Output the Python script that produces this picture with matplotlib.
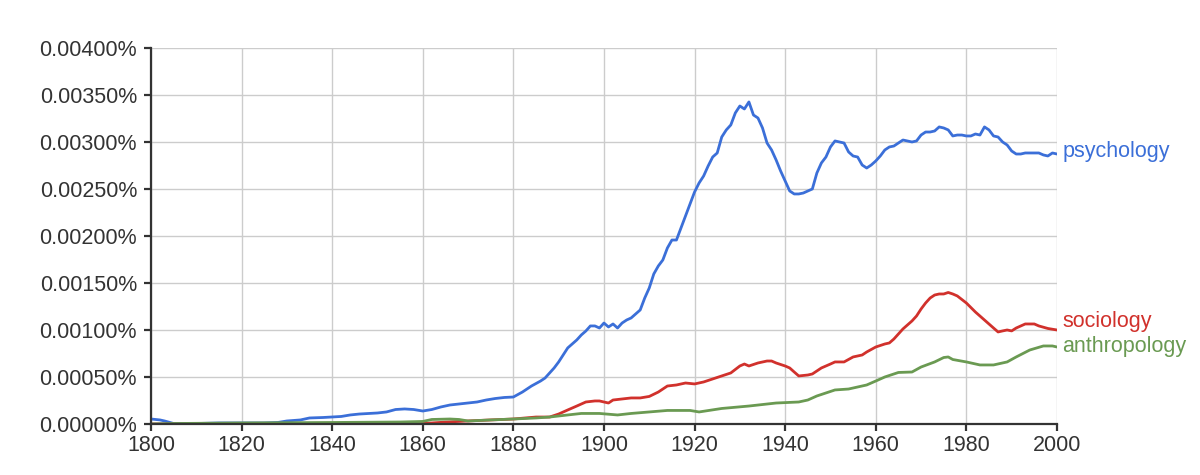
import matplotlib
matplotlib.use('Agg')
import matplotlib.pyplot as plt
from matplotlib.ticker import FuncFormatter

# values are share of all words, in percent
psych_years = [1800, 1802, 1803, 1805, 1810, 1815, 1820, 1825, 1828, 1830, 1833, 1835, 1838,
               1840, 1842, 1844, 1846, 1848, 1850, 1852, 1854, 1856, 1858, 1860, 1862, 1864,
               1866, 1868, 1870, 1872, 1874, 1876, 1878, 1880, 1882, 1884, 1886, 1887, 1888,
               1889, 1890, 1891, 1892, 1893, 1894, 1895, 1896, 1897, 1898, 1899, 1900, 1901,
               1902, 1903, 1904, 1905, 1906, 1907, 1908, 1909, 1910, 1911, 1912, 1913, 1914,
               1915, 1916, 1917, 1918, 1919, 1920, 1921, 1922, 1923, 1924, 1925, 1926, 1927,
               1928, 1929, 1930, 1931, 1932, 1933, 1934, 1935, 1936, 1937, 1938, 1939, 1940,
               1941, 1942, 1943, 1944, 1945, 1946, 1947, 1948, 1949, 1950, 1951, 1952, 1953,
               1954, 1955, 1956, 1957, 1958, 1959, 1960, 1961, 1962, 1963, 1964, 1965, 1966,
               1967, 1968, 1969, 1970, 1971, 1972, 1973, 1974, 1975, 1976, 1977, 1978, 1979,
               1980, 1981, 1982, 1983, 1984, 1985, 1986, 1987, 1988, 1989, 1990, 1991, 1992,
               1993, 1994, 1995, 1996, 1997, 1998, 1999, 2000]
psych_vals = [0.000053, 0.000043, 0.000032, 0.000005, 0.000005, 0.000011, 0.000011, 0.000011,
              0.000016, 0.000032, 0.000043, 0.000064, 0.000069, 0.000074, 0.000080, 0.000096,
              0.000106, 0.000112, 0.000117, 0.000128, 0.000154, 0.000160, 0.000154, 0.000138,
              0.000154, 0.000181, 0.000202, 0.000213, 0.000223, 0.000234, 0.000255, 0.000271,
              0.000282, 0.000287, 0.000340, 0.000404, 0.000457, 0.000489, 0.000543, 0.000596,
              0.000660, 0.000734, 0.000809, 0.000851, 0.000894, 0.000947, 0.000989, 0.001043,
              0.001043, 0.001021, 0.001074, 0.001032, 0.001064, 0.001021, 0.001074, 0.001106,
              0.001128, 0.001170, 0.001213, 0.001340, 0.001447, 0.001596, 0.001681, 0.001745,
              0.001872, 0.001957, 0.001957, 0.002085, 0.002213, 0.002340, 0.002468, 0.002564,
              0.002638, 0.002745, 0.002840, 0.002883, 0.003053, 0.003128, 0.003181, 0.003309,
              0.003383, 0.003351, 0.003426, 0.003287, 0.003255, 0.003149, 0.002989, 0.002915,
              0.002809, 0.002691, 0.002585, 0.002479, 0.002447, 0.002447, 0.002457, 0.002479,
              0.002500, 0.002670, 0.002777, 0.002840, 0.002947, 0.003011, 0.003000, 0.002989,
              0.002894, 0.002851, 0.002840, 0.002755, 0.002723, 0.002755, 0.002798, 0.002851,
              0.002915, 0.002947, 0.002957, 0.002989, 0.003021, 0.003011, 0.003000, 0.003011,
              0.003074, 0.003106, 0.003106, 0.003117, 0.003160, 0.003149, 0.003128, 0.003064,
              0.003074, 0.003074, 0.003064, 0.003064, 0.003085, 0.003074, 0.003160, 0.003128,
              0.003064, 0.003053, 0.003000, 0.002968, 0.002904, 0.002872, 0.002872, 0.002883,
              0.002883, 0.002883, 0.002883, 0.002862, 0.002851, 0.002883, 0.002872]

socio_years = [1800, 1858, 1860, 1865, 1870, 1875, 1880, 1885, 1888, 1890, 1892, 1894, 1896,
               1898, 1899, 1901, 1902, 1904, 1906, 1908, 1910, 1912, 1914, 1916, 1918, 1920,
               1922, 1924, 1926, 1928, 1930, 1931, 1932, 1934, 1936, 1937, 1938, 1940, 1941,
               1942, 1943, 1945, 1946, 1948, 1950, 1951, 1953, 1955, 1957, 1958, 1960, 1962,
               1963, 1964, 1966, 1968, 1969, 1970, 1971, 1972, 1973, 1974, 1975, 1976, 1977,
               1978, 1980, 1982, 1984, 1986, 1987, 1988, 1989, 1990, 1991, 1993, 1995, 1996,
               1998, 2000]
socio_vals = [0.0, 0.0, 0.000005, 0.000020, 0.000032, 0.000043, 0.000053, 0.000074, 0.000074,
              0.000106, 0.000149, 0.000191, 0.000234, 0.000245, 0.000245, 0.000223, 0.000255,
              0.000266, 0.000277, 0.000277, 0.000293, 0.000340, 0.000404, 0.000415, 0.000436,
              0.000426, 0.000447, 0.000479, 0.000511, 0.000543, 0.000617, 0.000638, 0.000617,
              0.000649, 0.000670, 0.000670, 0.000649, 0.000617, 0.000596, 0.000553, 0.000511,
              0.000521, 0.000532, 0.000596, 0.000638, 0.000660, 0.000660, 0.000713, 0.000734,
              0.000766, 0.000819, 0.000851, 0.000862, 0.000904, 0.001011, 0.001096, 0.001149,
              0.001223, 0.001287, 0.001340, 0.001372, 0.001383, 0.001383, 0.001399, 0.001383,
              0.001362, 0.001287, 0.001191, 0.001106, 0.001021, 0.000979, 0.000990, 0.001000,
              0.000990, 0.001021, 0.001064, 0.001064, 0.001043, 0.001016, 0.001000]

anthro_years = [1800, 1805, 1820, 1840, 1855, 1860, 1862, 1866, 1868, 1870, 1875, 1880, 1885,
                1888, 1892, 1895, 1899, 1903, 1906, 1910, 1914, 1919, 1921, 1926, 1932, 1938,
                1943, 1945, 1947, 1951, 1954, 1958, 1960, 1962, 1965, 1968, 1970, 1973, 1975,
                1976, 1977, 1980, 1983, 1986, 1989, 1991, 1994, 1997, 1999, 2000]
anthro_vals = [0.0, 0.000005, 0.000011, 0.000016, 0.000021, 0.000027, 0.000048, 0.000053,
               0.000048, 0.000032, 0.000043, 0.000053, 0.000064, 0.000074, 0.000096, 0.000112,
               0.000112, 0.000096, 0.000112, 0.000128, 0.000144, 0.000144, 0.000128, 0.000165,
               0.000191, 0.000223, 0.000234, 0.000255, 0.000298, 0.000362, 0.000372, 0.000415,
               0.000457, 0.000500, 0.000548, 0.000553, 0.000606, 0.000660, 0.000707, 0.000713,
               0.000686, 0.000660, 0.000628, 0.000628, 0.000660, 0.000713, 0.000787, 0.000830,
               0.000830, 0.000819]

series = [
    ("psychology", psych_years, psych_vals, '#3b6fd8', 2),
    ("sociology", socio_years, socio_vals, '#d1312c', 6),
    ("anthropology", anthro_years, anthro_vals, '#6a9a52', 0),
]

plt.rcParams['font.family'] = ['Liberation Sans', 'DejaVu Sans']

fig = plt.figure(figsize=(12, 4.75), dpi=100)
ax = fig.add_axes([0.1258, 0.1074, 0.7550, 0.7916])

for name, yrs, vals, col, dy in series:
    ax.plot(yrs, vals, color=col, lw=2.0, solid_joinstyle='round')
    ax.annotate(name, xy=(yrs[-1], vals[-1]), xytext=(4, dy), textcoords='offset points',
                color=col, fontsize=15.5, va='center', ha='left', annotation_clip=False)

ax.set_xlim(1800, 2000)
ax.set_ylim(0, 0.004)
ax.set_xticks(range(1800, 2001, 20))
ax.set_yticks([i * 0.0005 for i in range(9)])
ax.yaxis.set_major_formatter(FuncFormatter(lambda v, p: f"{v:.5f}%"))

ax.grid(True, color='#cccccc', lw=1.0)
ax.set_axisbelow(True)
for s in ['top', 'right']:
    ax.spines[s].set_visible(False)
for s in ['left', 'bottom']:
    ax.spines[s].set_color('#333333')
    ax.spines[s].set_linewidth(1.6)
ax.tick_params(axis='both', colors='#333333', labelsize=15.5, length=5, width=1.6)
ax.tick_params(axis='y', pad=5)
ax.tick_params(axis='x', pad=3)

fig.savefig("out.png", dpi=100)
